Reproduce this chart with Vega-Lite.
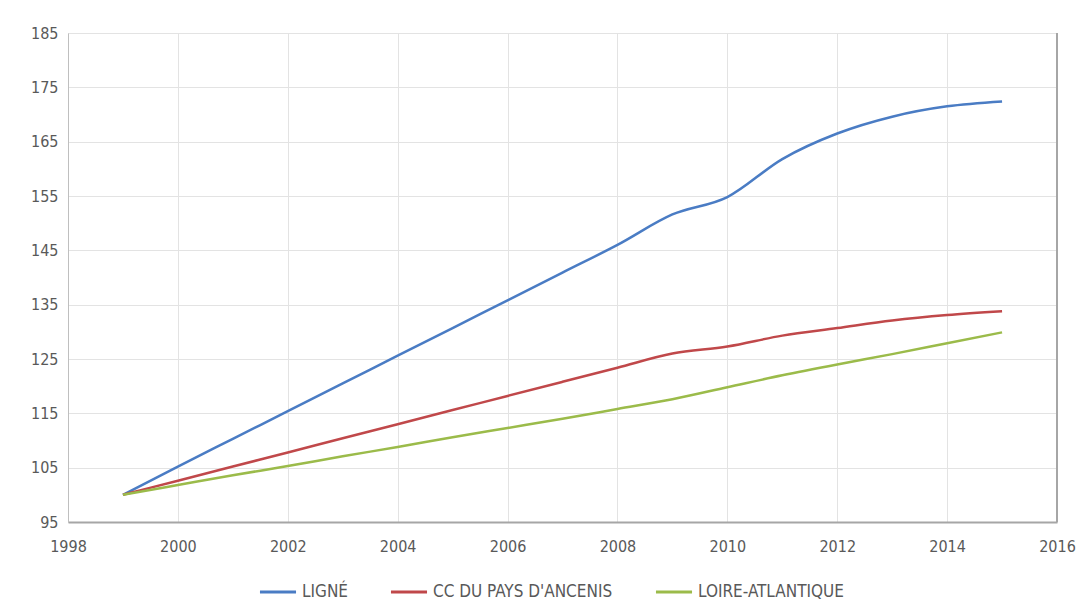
{
  "$schema": "https://vega.github.io/schema/vega-lite/v6.json",
  "autosize": "none",
  "width": 989,
  "height": 489,
  "padding": {"left": 68, "top": 33, "right": 26, "bottom": 90},
  "background": "white",
  "config": {
    "font": "DejaVu Sans Condensed, sans-serif",
    "view": {"stroke": "#d9d9d9", "strokeWidth": 1}
  },
  "data": {
    "values": [
      {"year": 1999, "serie": "LIGNÉ", "v": 100},
      {"year": 2000, "serie": "LIGNÉ", "v": 105.2},
      {"year": 2001, "serie": "LIGNÉ", "v": 110.3},
      {"year": 2002, "serie": "LIGNÉ", "v": 115.4},
      {"year": 2003, "serie": "LIGNÉ", "v": 120.5},
      {"year": 2004, "serie": "LIGNÉ", "v": 125.6},
      {"year": 2005, "serie": "LIGNÉ", "v": 130.7},
      {"year": 2006, "serie": "LIGNÉ", "v": 135.8},
      {"year": 2007, "serie": "LIGNÉ", "v": 140.9},
      {"year": 2008, "serie": "LIGNÉ", "v": 146.0},
      {"year": 2009, "serie": "LIGNÉ", "v": 151.6},
      {"year": 2010, "serie": "LIGNÉ", "v": 154.8},
      {"year": 2011, "serie": "LIGNÉ", "v": 161.8},
      {"year": 2012, "serie": "LIGNÉ", "v": 166.5},
      {"year": 2013, "serie": "LIGNÉ", "v": 169.6},
      {"year": 2014, "serie": "LIGNÉ", "v": 171.5},
      {"year": 2015, "serie": "LIGNÉ", "v": 172.4},
      {"year": 1999, "serie": "CC DU PAYS D'ANCENIS", "v": 100},
      {"year": 2000, "serie": "CC DU PAYS D'ANCENIS", "v": 102.6},
      {"year": 2001, "serie": "CC DU PAYS D'ANCENIS", "v": 105.2},
      {"year": 2002, "serie": "CC DU PAYS D'ANCENIS", "v": 107.8},
      {"year": 2003, "serie": "CC DU PAYS D'ANCENIS", "v": 110.4},
      {"year": 2004, "serie": "CC DU PAYS D'ANCENIS", "v": 113.0},
      {"year": 2005, "serie": "CC DU PAYS D'ANCENIS", "v": 115.6},
      {"year": 2006, "serie": "CC DU PAYS D'ANCENIS", "v": 118.2},
      {"year": 2007, "serie": "CC DU PAYS D'ANCENIS", "v": 120.8},
      {"year": 2008, "serie": "CC DU PAYS D'ANCENIS", "v": 123.4},
      {"year": 2009, "serie": "CC DU PAYS D'ANCENIS", "v": 126.0},
      {"year": 2010, "serie": "CC DU PAYS D'ANCENIS", "v": 127.3},
      {"year": 2011, "serie": "CC DU PAYS D'ANCENIS", "v": 129.3},
      {"year": 2012, "serie": "CC DU PAYS D'ANCENIS", "v": 130.7},
      {"year": 2013, "serie": "CC DU PAYS D'ANCENIS", "v": 132.1},
      {"year": 2014, "serie": "CC DU PAYS D'ANCENIS", "v": 133.1},
      {"year": 2015, "serie": "CC DU PAYS D'ANCENIS", "v": 133.8},
      {"year": 1999, "serie": "LOIRE-ATLANTIQUE", "v": 100},
      {"year": 2000, "serie": "LOIRE-ATLANTIQUE", "v": 101.8},
      {"year": 2001, "serie": "LOIRE-ATLANTIQUE", "v": 103.6},
      {"year": 2002, "serie": "LOIRE-ATLANTIQUE", "v": 105.3},
      {"year": 2003, "serie": "LOIRE-ATLANTIQUE", "v": 107.1},
      {"year": 2004, "serie": "LOIRE-ATLANTIQUE", "v": 108.8},
      {"year": 2005, "serie": "LOIRE-ATLANTIQUE", "v": 110.6},
      {"year": 2006, "serie": "LOIRE-ATLANTIQUE", "v": 112.3},
      {"year": 2007, "serie": "LOIRE-ATLANTIQUE", "v": 114.0},
      {"year": 2008, "serie": "LOIRE-ATLANTIQUE", "v": 115.8},
      {"year": 2009, "serie": "LOIRE-ATLANTIQUE", "v": 117.6},
      {"year": 2010, "serie": "LOIRE-ATLANTIQUE", "v": 119.8},
      {"year": 2011, "serie": "LOIRE-ATLANTIQUE", "v": 122.0},
      {"year": 2012, "serie": "LOIRE-ATLANTIQUE", "v": 124.0},
      {"year": 2013, "serie": "LOIRE-ATLANTIQUE", "v": 125.9},
      {"year": 2014, "serie": "LOIRE-ATLANTIQUE", "v": 127.9},
      {"year": 2015, "serie": "LOIRE-ATLANTIQUE", "v": 129.9}
    ]
  },
  "layer": [
    {
      "mark": {"type": "line", "interpolate": "monotone", "strokeWidth": 2.5},
      "encoding": {
        "x": {
          "field": "year", "type": "quantitative",
          "scale": {"domain": [1998, 2016], "nice": false, "zero": false},
          "axis": {
            "title": null, "values": [1998, 2000, 2002, 2004, 2006, 2008, 2010, 2012, 2014, 2016],
            "format": "d", "ticks": false, "labelPadding": 16, "labelFontSize": 16,
            "labelColor": "#595959", "domainColor": "#a6a6a6", "domainWidth": 2,
            "grid": true, "gridColor": "#e3e3e3", "labelFlush": false
          }
        },
        "y": {
          "field": "v", "type": "quantitative",
          "scale": {"domain": [95, 185], "nice": false, "zero": false},
          "axis": {
            "title": null, "values": [95, 105, 115, 125, 135, 145, 155, 165, 175, 185],
            "ticks": false, "labelPadding": 10, "labelFontSize": 16,
            "labelColor": "#595959", "domainColor": "#bfbfbf",
            "grid": true, "gridColor": "#e3e3e3"
          }
        },
        "color": {
          "field": "serie", "type": "nominal",
          "sort": ["LIGNÉ", "CC DU PAYS D'ANCENIS", "LOIRE-ATLANTIQUE"],
          "scale": {
            "domain": ["LIGNÉ", "CC DU PAYS D'ANCENIS", "LOIRE-ATLANTIQUE"],
            "range": ["#4A7CC4", "#C0484A", "#9BBB4A"]
          },
          "legend": {
            "title": null, "orient": "none", "direction": "horizontal",
            "legendX": 190, "legendY": 539,
            "symbolType": "stroke", "symbolSize": 1300, "symbolStrokeWidth": 3,
            "labelFontSize": 17, "labelColor": "#595959", "labelOffset": 4,
            "labelLimit": 400, "columnPadding": 36
          }
        }
      }
    },
    {
      "data": {"values": [{"x": 2016}]},
      "mark": {"type": "rule", "color": "#a6a6a6", "strokeWidth": 2},
      "encoding": {"x": {"field": "x", "type": "quantitative"}}
    }
  ]
}
